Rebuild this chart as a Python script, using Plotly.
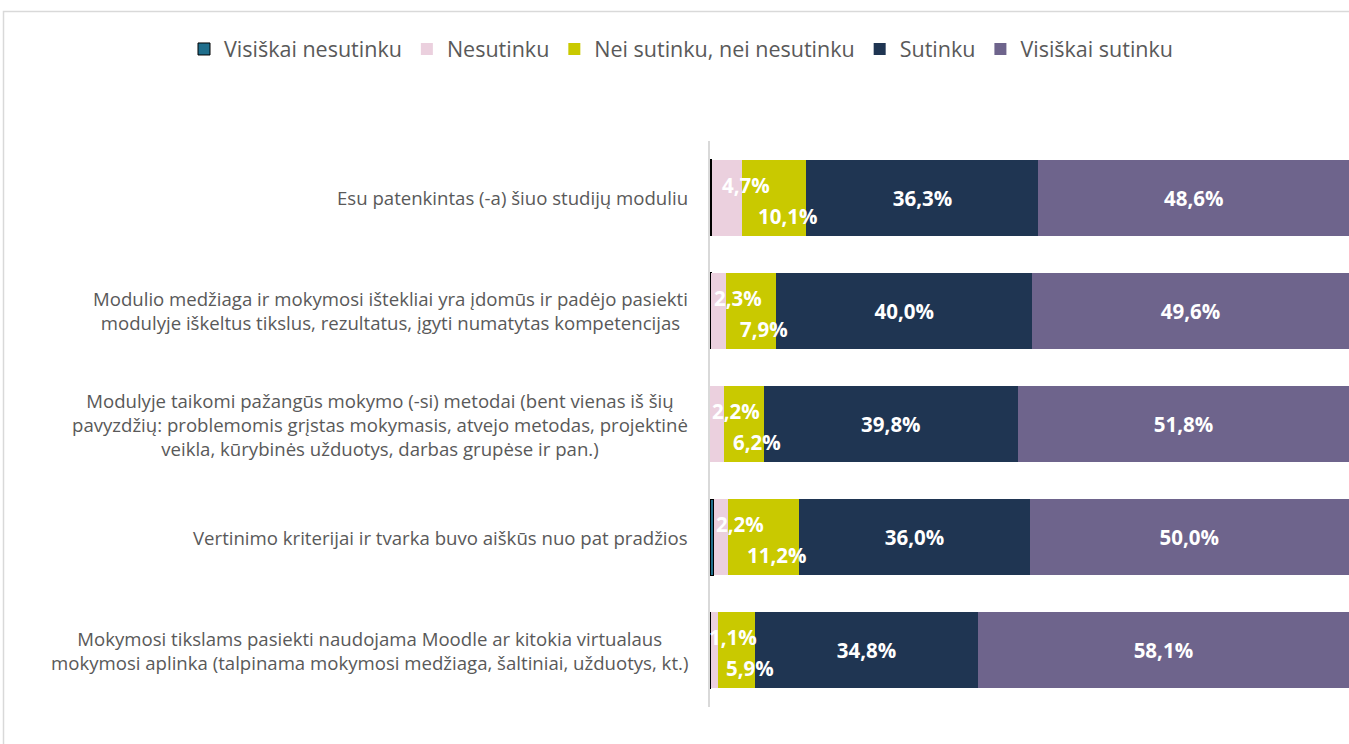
import plotly.graph_objects as go

categories = [
    "Esu patenkintas (-a) šiuo studijų moduliu",
    "Modulio medžiaga ir mokymosi ištekliai yra įdomūs ir padėjo pasiekti<br>modulyje iškeltus tikslus, rezultatus, įgyti numatytas kompetencijas",
    "Modulyje taikomi pažangūs mokymo (-si) metodai (bent vienas iš šių<br>pavyzdžių: problemomis grįstas mokymasis, atvejo metodas, projektinė<br>veikla, kūrybinės užduotys, darbas grupėse ir pan.)",
    "Vertinimo kriterijai ir tvarka buvo aiškūs nuo pat pradžios",
    "Mokymosi tikslams pasiekti naudojama Moodle ar kitokia virtualaus<br>mokymosi aplinka (talpinama mokymosi medžiaga, šaltiniai, užduotys, kt.)",
]
series_names = ["Visiškai nesutinku", "Nesutinku", "Nei sutinku, nei nesutinku", "Sutinku", "Visiškai sutinku"]
visiskai_nesutinku = [0.3, 0.2, 0.0, 0.6, 0.1]
nesutinku = [4.7, 2.3, 2.2, 2.2, 1.1]
nei_nei = [10.1, 7.9, 6.2, 11.2, 5.9]
sutinku = [36.3, 40.0, 39.8, 36.0, 34.8]
visiskai_sutinku = [48.6, 49.6, 51.8, 50.0, 58.1]

colors = ["#1F6E8C", "#EBD0DE", "#C9C900", "#1F3552", "#6E648C"]
all_series = [visiskai_nesutinku, nesutinku, nei_nei, sutinku, visiskai_sutinku]

FONT = "Open Sans"
LABEL_SIZE = 20.5
CAT_SIZE = 18.6

def fmt(v):
    return f"{v:.1f}".replace(".", ",") + "%"

W, H = 1349, 744
ML, MR, MT, MB = 710, 0, 141, 37
pw = W - ML - MR
ph = H - MT - MB

fig = go.Figure()
for i, (name, vals, col) in enumerate(zip(series_names, all_series, colors)):
    show_text = i >= 3
    fig.add_trace(go.Bar(
        y=categories, x=vals, name=name, orientation="h",
        marker=dict(color=col, line=dict(color="#000000" if i == 0 else col, width=1 if i == 0 else 0)),
        text=[fmt(v) for v in vals] if show_text else None,
        textposition="inside" if show_text else "none",
        insidetextanchor="middle",
        textangle=0,
        constraintext="none",
        textfont=dict(family=FONT, size=LABEL_SIZE, color="white", weight="bold"),
        hoverinfo="x+name",
    ))

annotations = []
for k, cat in enumerate(categories):
    base = visiskai_nesutinku[k]
    annotations.append(dict(
        x=base + nesutinku[k] / 2, y=cat, xref="x", yref="y", text=f"<b>{fmt(nesutinku[k])}</b>",
        showarrow=False, xshift=19, yshift=13,
        font=dict(family=FONT, size=LABEL_SIZE, color="white")))
    base2 = base + nesutinku[k]
    annotations.append(dict(
        x=base2 + nei_nei[k] / 2, y=cat, xref="x", yref="y", text=f"<b>{fmt(nei_nei[k])}</b>",
        showarrow=False, xshift=13, yshift=-18,
        font=dict(family=FONT, size=LABEL_SIZE, color="white")))
    annotations.append(dict(
        x=0, y=cat, xref="paper", yref="y", text=cat, showarrow=False,
        xanchor="right", xshift=-20, align="center",
        font=dict(family=FONT, size=CAT_SIZE, color="#595959")))

def px_to_paper_x(px):
    return (px - ML) / pw

def px_to_paper_y(py):
    return (H - MB - py) / ph

fig.update_layout(
    width=W, height=H,
    margin=dict(l=ML, r=MR, t=MT, b=MB),
    barmode="stack", bargap=0.33,
    plot_bgcolor="white", paper_bgcolor="white",
    font=dict(family=FONT, size=CAT_SIZE, color="#595959"),
    xaxis=dict(range=[0, 100], visible=False, fixedrange=True),
    yaxis=dict(autorange="reversed", showticklabels=False, showline=True,
               linecolor="#D9D9D9", linewidth=1.5, ticks="", showgrid=False),
    legend=dict(orientation="h", x=px_to_paper_x(184), xanchor="left",
                y=px_to_paper_y(49), yanchor="middle",
                font=dict(family=FONT, size=21.5, color="#595959"),
                traceorder="normal"),
    annotations=annotations,
    shapes=[dict(type="rect", xref="paper", yref="paper",
                 x0=px_to_paper_x(3.5), x1=px_to_paper_x(1400),
                 y0=px_to_paper_y(11.5), y1=px_to_paper_y(800),
                 line=dict(color="#D9D9D9", width=1.5), layer="below")],
)

fig.write_html("out.html", config={"displayModeBar": False},
               post_script="document.body.style.margin='0';document.body.style.overflow='hidden';")
